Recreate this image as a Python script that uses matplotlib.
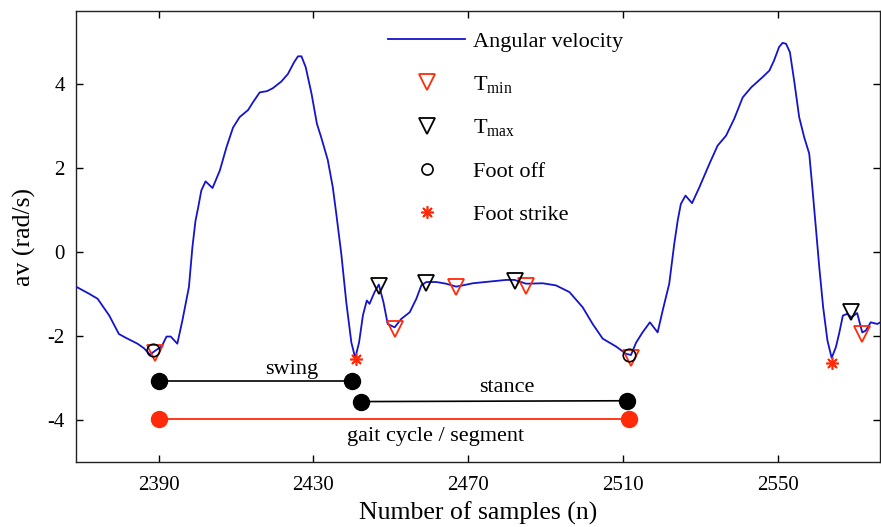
import matplotlib
matplotlib.use("Agg")
import matplotlib.pyplot as plt
from matplotlib.lines import Line2D

plt.rcParams['font.family'] = ['Liberation Serif', 'DejaVu Serif']
plt.rcParams['mathtext.fontset'] = 'custom'
plt.rcParams['mathtext.rm'] = 'Liberation Serif'
plt.rcParams['axes.unicode_minus'] = False

# ---- data ----
sample = [2368.6, 2372.0, 2374.2, 2377.2, 2379.7, 2381.5, 2384.5, 2386.2, 2387.7, 2389.2,
          2390.8, 2392.0, 2393.1, 2394.8, 2396.1, 2397.8, 2398.7, 2399.5, 2400.2, 2401.0,
          2402.1, 2403.9, 2405.8, 2407.5, 2409.2, 2410.9, 2413.1, 2414.4, 2416.1, 2418.0,
          2419.5, 2421.7, 2423.4, 2425.0, 2426.0, 2426.9, 2428.0, 2429.5, 2430.9, 2432.0,
          2433.7, 2435.0, 2435.9, 2437.2, 2438.5, 2439.8, 2440.8, 2441.8, 2442.8, 2443.8,
          2444.5, 2445.8, 2446.9, 2448.1, 2449.2, 2451.0, 2452.7, 2454.9, 2456.6, 2457.9,
          2459.2, 2461.8, 2464.3, 2466.9, 2468.6, 2471.2, 2475.5, 2479.8, 2482.0, 2485.0,
          2489.3, 2492.7, 2496.2, 2499.6, 2502.2, 2504.8, 2508.3, 2510.8, 2512.1, 2513.4,
          2515.1, 2517.0, 2519.0, 2520.3, 2522.0, 2523.3, 2524.2, 2525.0, 2526.2, 2527.9,
          2529.8, 2532.4, 2534.5, 2536.7, 2538.8, 2541.0, 2543.2, 2546.1, 2547.9, 2549.1,
          2550.4, 2551.3, 2552.2, 2553.2, 2554.3, 2555.6, 2556.9, 2558.2, 2559.0, 2559.9,
          2560.8, 2561.8, 2562.9, 2564.0, 2565.1, 2565.9, 2566.9, 2568.0, 2569.1, 2570.6,
          2571.9, 2572.8, 2574.1, 2575.8, 2576.6]
angular_velocity = [-0.82, -0.99, -1.11, -1.51, -1.95, -2.04, -2.18, -2.29, -2.44, -2.34,
                    -2.24, -2.01, -2.01, -2.18, -1.63, -0.83, 0.12, 0.75, 1.07, 1.47,
                    1.69, 1.53, 1.95, 2.50, 2.97, 3.22, 3.39, 3.58, 3.81, 3.84,
                    3.91, 4.07, 4.25, 4.53, 4.67, 4.67, 4.41, 3.78, 3.06, 2.74,
                    2.20, 1.55, 0.92, -0.04, -1.20, -2.15, -2.52, -2.15, -1.50, -1.15,
                    -1.23, -0.95, -0.77, -1.19, -1.71, -1.79, -1.59, -1.43, -1.11, -0.79,
                    -0.71, -0.71, -0.75, -0.82, -0.79, -0.74, -0.70, -0.66, -0.66, -0.75,
                    -0.74, -0.79, -0.95, -1.31, -1.71, -2.06, -2.25, -2.42, -2.45, -2.16,
                    -1.91, -1.67, -1.91, -1.39, -0.75, 0.20, 0.76, 1.15, 1.35, 1.17,
                    1.55, 2.11, 2.54, 2.78, 3.18, 3.69, 3.93, 4.17, 4.33, 4.57,
                    4.89, 4.99, 4.97, 4.77, 4.09, 3.22, 2.74, 2.35, 1.55, 0.60,
                    -0.36, -1.31, -2.10, -2.52, -2.26, -1.95, -1.51, -1.47, -1.55, -1.45,
                    -1.91, -1.87, -1.67, -1.71, -1.67]

tmin_x = [2389.0, 2451.0, 2466.9, 2485.0, 2512.1, 2571.9]
tmin_y = [-2.40, -1.82, -0.84, -0.80, -2.52, -1.95]
tmax_x = [2446.9, 2459.0, 2482.0, 2569.1]
tmax_y = [-0.80, -0.74, -0.69, -1.43]
footoff_x = [2388.5, 2511.7]
footoff_y = [-2.32, -2.44]
footstrike_x = [2440.9, 2564.0]
footstrike_y = [-2.55, -2.63]

swing_x = [2390.0, 2439.9]
swing_y = [-3.08, -3.08]
stance_x = [2442.2, 2511.2]
stance_y = [-3.56, -3.54]
gait_x = [2390.0, 2511.7]
gait_y = [-3.97, -3.97]

xticks = [2390, 2430, 2470, 2510, 2550]
yticks = [-4, -2, 0, 2, 4]

# ---- figure ----
fig = plt.figure(figsize=(8.81, 5.27), dpi=100)
ax = fig.add_axes([76/881, 65/527, 804/881, 451/527])

blue = '#1414CC'
red = '#FF2A0A'
ax.plot(sample, angular_velocity, color=blue, lw=1.3, zorder=3)
ax.plot(tmin_x, tmin_y, ls='none', marker='v', ms=12, mfc='none', mec=red, mew=1.3, zorder=4)
ax.plot(tmax_x, tmax_y, ls='none', marker='v', ms=12, mfc='none', mec='black', mew=1.3, zorder=4)
ax.plot(footoff_x, footoff_y, ls='none', marker='o', ms=9, mfc='none', mec='black', mew=1.2, zorder=4)
ax.plot(footstrike_x, footstrike_y, ls='none', marker=(8, 2, 0), ms=9, mec=red, mew=1.2, zorder=4)

ax.plot(swing_x, swing_y, color='black', lw=1.2, marker='o', ms=11.5, mfc='black', mec='black')
ax.plot(stance_x, stance_y, color='black', lw=1.2, marker='o', ms=11.5, mfc='black', mec='black')
ax.plot(gait_x, gait_y, color=red, lw=1.3, marker='o', ms=11.5, mfc=red, mec=red)

ax.text(2424.4, -2.80, 'swing', ha='center', va='center', fontsize=16)
ax.text(2479.9, -3.22, 'stance', ha='center', va='center', fontsize=16)
ax.text(2461.6, -4.39, 'gait cycle / segment', ha='center', va='center', fontsize=16)

ax.set_xlim(2368.6, 2576.5)
ax.set_ylim(-5.0, 5.75)
ax.set_xticks(xticks)
ax.set_yticks(yticks)
ax.tick_params(direction='in', length=5, width=1, top=True, right=True, labelsize=15)
ax.tick_params(axis='x', pad=10)
ax.tick_params(axis='y', pad=8)
for s in ax.spines.values():
    s.set_linewidth(1.0)
    s.set_color('#222222')
ax.set_xlabel('Number of samples (n)', fontsize=18.5, labelpad=5)
ax.set_ylabel('av (rad/s)', fontsize=18.5, labelpad=8)

handles = [
    Line2D([], [], color=blue, lw=1.3),
    Line2D([], [], ls='none', marker='v', ms=11, mfc='none', mec=red, mew=1.3),
    Line2D([], [], ls='none', marker='v', ms=11, mfc='none', mec='black', mew=1.3),
    Line2D([], [], ls='none', marker='o', ms=8, mfc='none', mec='black', mew=1.2),
    Line2D([], [], ls='none', marker=(8, 2, 0), ms=9, mec=red, mew=1.2),
]
labels = ['Angular velocity', r'T$_{\mathrm{min}}$', r'T$_{\mathrm{max}}$', 'Foot off', 'Foot strike']
ax.legend(handles, labels, loc='upper left', bbox_to_anchor=(0.388, 0.955), frameon=False,
          fontsize=16, handlelength=3.47, handletextpad=0.375, labelspacing=1.0, borderpad=0,
          borderaxespad=0)

fig.savefig('out.png', dpi=100)
